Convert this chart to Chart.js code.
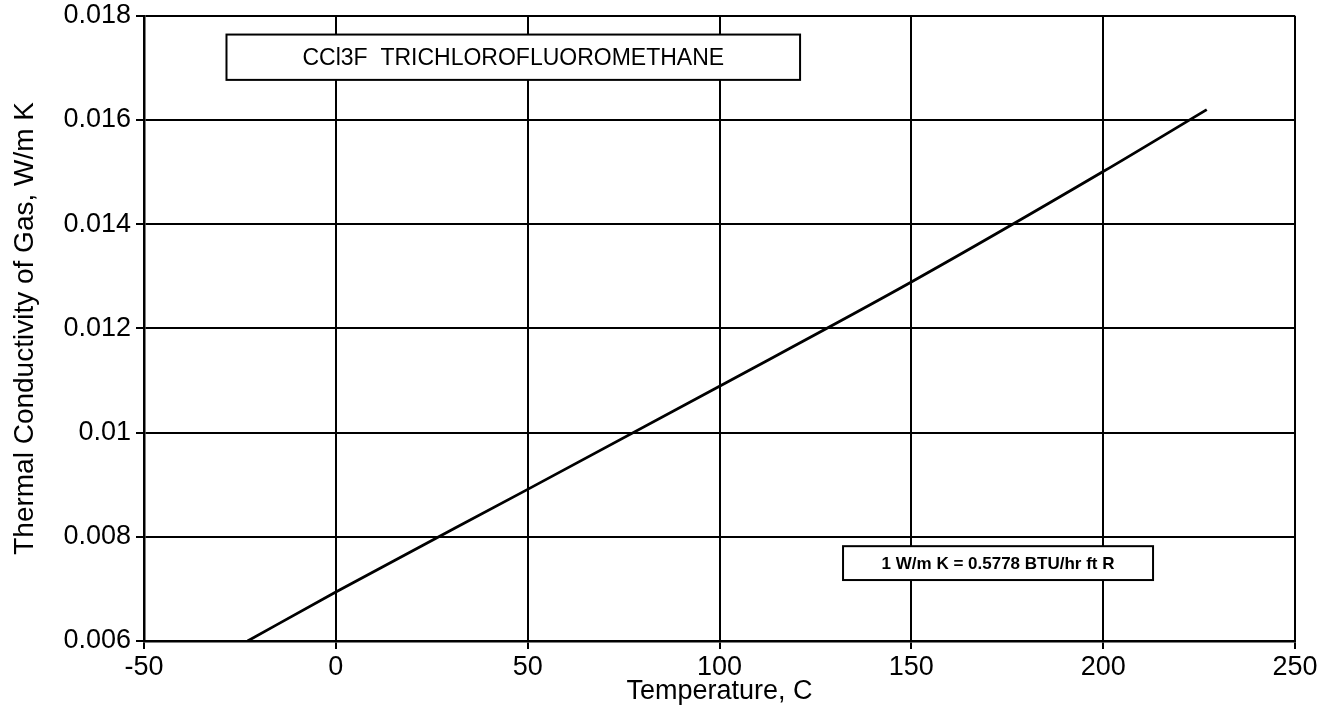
<!DOCTYPE html>
<html>
<head>
<meta charset="utf-8">
<script src="https://cdn.jsdelivr.net/npm/chart.js@4.4.1/dist/chart.umd.min.js"></script>
<style>
  html, body { margin: 0; padding: 0; background: #fff; }
  #wrap { width: 1336px; height: 718px; }
</style>
</head>
<body>
<div id="wrap"><canvas id="grafico"></canvas></div>
<script>
// Dados
const temperaturas = [-23, 0, 50, 100, 150, 200, 227];
const condutividade = [0.0060, 0.00694, 0.00891, 0.01089, 0.01289, 0.01501, 0.0162];

const tituloCaixa = 'CCl3F  TRICHLOROFLUOROMETHANE';
const notaConversao = '1 W/m K = 0.5778 BTU/hr ft R';

const fonte = '"Liberation Sans", Arial, Helvetica, sans-serif';

// Caixas de texto desenhadas em coordenadas de dados
const caixas = [
    { texto: tituloCaixa, x0: -28.5, x1: 121, y0: 0.01764, y1: 0.01677, fonte: '23px ' + fonte },
    { texto: notaConversao, x0: 132.2, x1: 213, y0: 0.00782, y1: 0.00717, fonte: 'bold 17px ' + fonte }
];

const pluginCaixas = {
    id: 'caixas',
    afterDatasetsDraw(chart) {
        const ctx = chart.ctx;
        const sx = chart.scales.x, sy = chart.scales.y;
        caixas.forEach(function(c) {
            const l = sx.getPixelForValue(c.x0), r = sx.getPixelForValue(c.x1);
            const t = sy.getPixelForValue(c.y0), b = sy.getPixelForValue(c.y1);
            ctx.save();
            ctx.fillStyle = '#fff';
            ctx.fillRect(l, t, r - l, b - t);
            ctx.strokeStyle = '#000';
            ctx.lineWidth = 2;
            ctx.strokeRect(l, t, r - l, b - t);
            ctx.fillStyle = '#000';
            ctx.font = c.fonte;
            ctx.textAlign = 'center';
            ctx.textBaseline = 'middle';
            ctx.fillText(c.texto, (l + r) / 2, (t + b) / 2 + 1);
            ctx.restore();
        });
    }
};

const ctx = document.getElementById('grafico').getContext('2d');
new Chart(ctx, {
    type: 'line',
    data: {
        datasets: [{
            data: temperaturas.map(function(t, i) { return { x: t, y: condutividade[i] }; }),
            borderColor: '#000',
            borderWidth: 2.8,
            pointRadius: 0,
            cubicInterpolationMode: 'monotone',
            fill: false
        }]
    },
    options: {
        responsive: true,
        maintainAspectRatio: false,
        animation: false,
        layout: { padding: { top: 3, right: 41, left: 0, bottom: 0 } },
        plugins: {
            legend: { display: false },
            tooltip: { enabled: false }
        },
        scales: {
            x: {
                type: 'linear',
                min: -50,
                max: 250,
                ticks: {
                    stepSize: 50,
                    color: '#000',
                    padding: 2,
                    maxRotation: 0,
                    font: { family: fonte, size: 27 }
                },
                grid: { color: '#000', lineWidth: 2, tickLength: 8 },
                border: { color: '#000', width: 2.5 },
                title: {
                    display: true,
                    text: 'Temperature, C',
                    color: '#000',
                    font: { family: fonte, size: 27 },
                    padding: { top: 0, bottom: 10 }
                },
                afterFit: function(scale) { scale.height = 77; }
            },
            y: {
                min: 0.006,
                max: 0.018,
                ticks: {
                    stepSize: 0.002,
                    color: '#000',
                    padding: 5,
                    font: { family: fonte, size: 27, lineHeight: 0.8 },
                    callback: function(v) { return String(+v.toFixed(3)); }
                },
                grid: { color: '#000', lineWidth: 2, tickLength: 8 },
                border: { color: '#000', width: 2.5 },
                title: {
                    display: true,
                    text: 'Thermal Conductivity of Gas, W/m K',
                    color: '#000',
                    font: { family: fonte, size: 28 },
                    padding: { top: 8, bottom: 0 }
                },
                afterFit: function(scale) { scale.width = 144; }
            }
        }
    },
    plugins: [pluginCaixas]
});
</script>
</body>
</html>
